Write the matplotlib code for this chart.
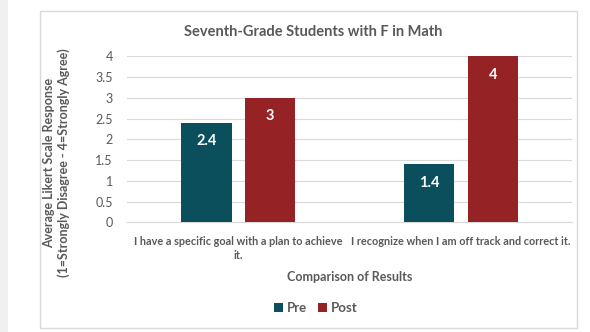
import numpy as np
import matplotlib.pyplot as plt
from matplotlib.patches import Rectangle

categories = ['I have a specific goal with a plan to achieve\nit.',
              'I recognize when I am off track and correct it.']
pre = [2.4, 1.4]
post = [3, 4]
yticks = [0, 0.5, 1, 1.5, 2, 2.5, 3, 3.5, 4]

plt.rcParams['font.family'] = ['Lato', 'DejaVu Sans']
grey = '#595959'
c_pre = '#0b4f5c'
c_post = '#952326'

fig = plt.figure(figsize=(5.9, 3.32), dpi=100)
fig.patch.set_facecolor('white')
# grey strip on the left and the chart frame
fig.patches.append(Rectangle((0, 0), 0.013, 1, transform=fig.transFigure,
                             facecolor='#f0f0f0', edgecolor='none', zorder=-5))
fig.patches.append(Rectangle((0.068, 0.012), 0.91, 0.955, transform=fig.transFigure,
                             facecolor='none', edgecolor='#d9d9d9', lw=1, zorder=-5))
ax = fig.add_axes([0.215, 0.33, 0.755, 0.50])

x = np.arange(len(categories))
w = 0.225
b1 = ax.bar(x - w/2 - 0.03, pre, w, color=c_pre, label='Pre', zorder=3)
b2 = ax.bar(x + w/2 + 0.03, post, w, color=c_post, label='Post', zorder=3)
for bars in (b1, b2):
    for r in bars:
        h = r.get_height()
        ax.text(r.get_x() + r.get_width()/2, h - 0.44, f'{h:g}', ha='center', va='center',
                color='white', fontsize=10.5, fontweight='bold', zorder=4)

ax.set_xlim(-0.5, 1.5)
ax.set_ylim(0, 4)
ax.set_yticks(yticks)
ax.set_yticklabels([f'{t:g}' for t in yticks])
ax.set_xticks(x)
ax.set_xticklabels(categories, fontsize=7.8, color=grey, fontweight='bold', linespacing=1.3)
ax.tick_params(axis='y', labelsize=9, colors=grey, length=0, pad=10)
ax.tick_params(axis='x', length=0, pad=10)
ax.grid(axis='y', color='#d9d9d9', lw=0.8, zorder=0)
for s in ['top', 'right', 'left']:
    ax.spines[s].set_visible(False)
ax.spines['bottom'].set_color('#d9d9d9')

fig.text(0.53, 0.905, 'Seventh-Grade Students with F in Math', ha='center', va='center',
         fontsize=10.5, fontweight='bold', color=grey)
ax.set_xlabel('Comparison of Results', fontsize=9, fontweight='bold', color=grey, labelpad=7)
ax.set_ylabel('Average Likert Scale Response\n(1=Strongly Disagree - 4=Strongly Agree)',
              fontsize=9, fontweight='bold', color=grey)
ax.yaxis.set_label_coords(-0.128, 0.36)
leg = fig.legend(handles=[b1, b2], loc='center', bbox_to_anchor=(0.535, 0.072), ncol=2,
                 frameon=False, labelcolor=grey, handlelength=0.7,
                 handleheight=0.7, handletextpad=0.3, columnspacing=0.8,
                 prop={'weight': 'bold', 'size': 9.5})

fig.savefig('out.png', dpi=100, facecolor=fig.get_facecolor())
